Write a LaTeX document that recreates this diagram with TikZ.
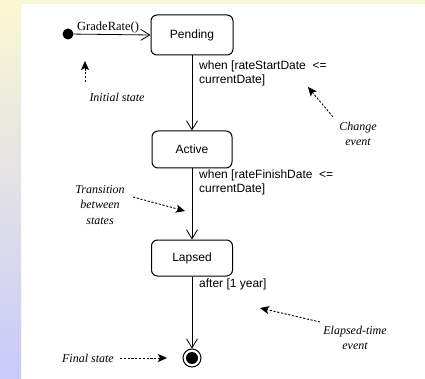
\documentclass[tikz,border=0pt]{standalone}
\usepackage{fontspec}
\setmainfont{Liberation Serif}
\setsansfont{Liberation Sans}
\usetikzlibrary{arrows.meta}
\definecolor{paleyellow}{HTML}{FAF8D2}
\definecolor{palelilac}{HTML}{C9C9FA}
\tikzset{
  statebox/.style={draw, line width=1pt, rounded corners=6pt, font=\sffamily\fontsize{12}{14}\selectfont, inner sep=0pt},
  trans/.style={line width=0.8pt, -{Straight Barb[length=9pt,width=11pt,line width=0.8pt]}},
  guard/.style={font=\sffamily\fontsize{12}{14}\selectfont, align=left, inner sep=0pt},
  note/.style={font=\itshape\fontsize{12}{15.5}\selectfont, align=center, inner sep=0pt},
  pointer/.style={line width=0.9pt, dash pattern=on 2.2pt off 1.6pt, -{Stealth[length=9pt,width=8pt,inset=2pt]}}
}
\begin{document}
\begin{tikzpicture}[x=1pt,y=-1pt]
  % page frame and tinted margins
  \useasboundingbox (0,0) rectangle (425,379);
  \fill[white] (0,0) rectangle (425,379);
  \fill[paleyellow] (0,0) rectangle (425,4);
  \shade[top color=paleyellow, bottom color=palelilac] (0,0) rectangle (21,379);

  % states
  \node[circle, fill=black, minimum size=11pt, inner sep=0pt] (init) at (68,34) {};
  \node[statebox, minimum width=82pt, minimum height=40pt] (pending) at (192,35) {Pending};
  \node[statebox, minimum width=80pt, minimum height=37pt] (active) at (192,149.5) {Active};
  \node[statebox, minimum width=81pt, minimum height=36pt] (lapsed) at (192,258) {Lapsed};
  \node[circle, draw, line width=1pt, minimum size=18pt, inner sep=0pt] (final) at (192,358) {};
  \fill (final.center) circle (6pt);

  % transitions
  \draw[trans] (init) -- node[above, font=\fontsize{12.5}{14}\selectfont, inner sep=1pt, xshift=-4pt] (evt) {GradeRate()} (pending.west);
  \draw[trans] (pending) -- (active);
  \draw[trans] (active) -- (lapsed);
  \draw[trans] (lapsed) -- (final);

  % guard / event labels
  \node[guard, anchor=north west] (g1) at (199,61) {when [rateStartDate\ \ {<=}\\currentDate]};
  \node[guard, anchor=north west] (g2) at (199,170) {when [rateFinishDate\ \ {<=}\\currentDate]};
  \node[guard, anchor=north west] (g3) at (199,279) {after [1 year]};

  % annotations
  \node[note] (ninit) at (117,97) {Initial state};
  \coordinate (ninitA) at (85,82);
  \coordinate (ninitB) at (85,61);
  \draw[pointer] (ninitA) -- (ninitB);

  \node[note] (nchange) at (358,134) {Change\\event};
  \coordinate (nchangeA) at (333,117);
  \coordinate (nchangeB) at (308,87);
  \draw[pointer] (nchangeA) -- (nchangeB);

  \node[note] (ntrans) at (100,205) {Transition\\between\\states};
  \coordinate (ntransA) at (133,197);
  \coordinate (ntransB) at (185,211);
  \draw[pointer] (ntransA) -- (ntransB);

  \node[note] (nelapsed) at (355,338) {Elapsed-time\\event};
  \coordinate (nelapsedA) at (320,322);
  \coordinate (nelapsedB) at (260,308);
  \draw[pointer] (nelapsedA) -- (nelapsedB);

  \node[note, anchor=east] (nfinal) at (114,358) {Final state};
  \coordinate (nfinalA) at (120,358);
  \coordinate (nfinalB) at (167,358);
  \draw[pointer] (nfinalA) -- (nfinalB);
\end{tikzpicture}
\end{document}
